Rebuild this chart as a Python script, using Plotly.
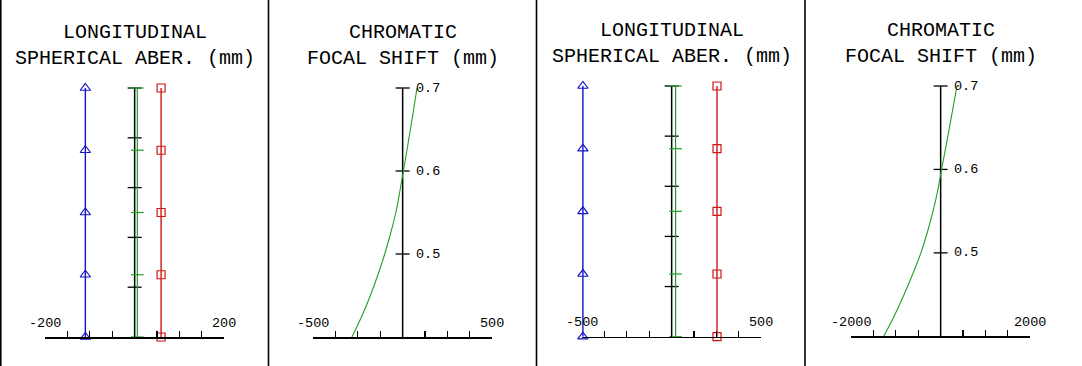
import plotly.graph_objects as go

W, H = 1082, 366

# ---------------- data ----------------
pupil = [0.0, 0.25, 0.5, 0.75, 1.0]
lsa_tick_vals = [0.2, 0.4, 0.6, 0.8, 1.0]

lsa1_blue = [-110, -110, -110, -110, -110]
lsa1_green = [6, 6, 6, 6, 6]
lsa1_red = [59, 59, 59, 59, 59]

lsa3_blue = [-495, -495, -495, -495, -495]
lsa3_green = [22, 22, 22, 22, 22]
lsa3_red = [253, 253, 253, 253, 253]

wavelength = [0.400, 0.425, 0.450, 0.475, 0.500, 0.525, 0.550,
              0.575, 0.600, 0.625, 0.650, 0.675, 0.700]
cfs2 = [-283, -228, -180, -138, -100, -67, -38, -16, 4, 24, 43, 62, 80]
cfs4 = [-1270, -1030, -815, -620, -440, -295, -170, -65, 20, 110, 195, 280, 364]
cfs_tick_vals = [0.5, 0.6, 0.7]
cfs_tick_text = ["0.5", "0.6", "0.7"]

x_ranges = [[-200, 200], [-500, 500], [-500, 500], [-2000, 2000]]
x_ticks = [
    [-200, -150, -100, -50, 0, 50, 100, 150, 200],
    [-500, -375, -250, -125, 0, 125, 250, 375, 500],
    [-500, -375, -250, -125, 0, 125, 250, 375, 500],
    [-2000, -1500, -1000, -500, 0, 500, 1000, 1500, 2000],
]
x_end_labels = [["-200", "200"], ["-500", "500"], ["-500", "500"], ["-2000", "2000"]]
y_ranges = [[0, 1], [0.4, 0.7], [0, 1], [0.4, 0.7]]
titles = [
    "LONGITUDINAL<br>SPHERICAL ABER. (mm)",
    "CHROMATIC<br>FOCAL SHIFT (mm)",
    "LONGITUDINAL<br>SPHERICAL ABER. (mm)",
    "CHROMATIC<br>FOCAL SHIFT (mm)",
]

# ---------------- layout geometry (pixels) ----------------
px_x = [(45, 224.3), (313, 492.3), (582, 761.3), (851, 1030.3)]
px_y = [(88, 337), (88, 337), (86, 336.7), (86, 336.3)]
separators = [0.8, 268.5, 536.5, 805]

BLUE = "#1414c8"
GREEN = "#22a022"
RED = "#d21414"
FONT = "Liberation Mono"

fig = go.Figure()
layout = dict(
    width=W, height=H, margin=dict(l=0, r=0, t=0, b=0),
    paper_bgcolor="white", plot_bgcolor="white", showlegend=False,
)
annotations = []
shapes = []

for i in range(4):
    n = "" if i == 0 else str(i + 1)
    xa, ya = "x" + n, "y" + n
    (x0, x1), (y0, y1) = px_x[i], px_y[i]
    layout["xaxis" + n] = dict(
        domain=[x0 / W, x1 / W], range=x_ranges[i], anchor=ya,
        showline=True, linecolor="black", linewidth=1.5,
        ticks="inside", ticklen=6, tickwidth=1.2, tickcolor="black",
        tickvals=x_ticks[i], showticklabels=False,
        showgrid=False, zeroline=False, fixedrange=True,
    )
    layout["yaxis" + n] = dict(
        domain=[1 - y1 / H, 1 - y0 / H], range=y_ranges[i], anchor=xa,
        visible=False, fixedrange=True,
    )
    ymin, ymax = y_ranges[i]
    # vertical axis at x = 0
    fig.add_trace(go.Scatter(x=[0, 0], y=[ymin, ymax], mode="lines",
                             line=dict(color="black", width=1.5),
                             xaxis=xa, yaxis=ya, hoverinfo="skip"))
    tv = lsa_tick_vals if i in (0, 2) else cfs_tick_vals
    fig.add_trace(go.Scatter(x=[0] * len(tv), y=tv, mode="markers",
                             marker=dict(symbol="line-ew", size=10,
                                         line=dict(color="black", width=1.3)),
                             xaxis=xa, yaxis=ya, cliponaxis=False, hoverinfo="skip"))

    if i in (0, 2):
        g, b, r = (lsa1_green, lsa1_blue, lsa1_red) if i == 0 else (lsa3_green, lsa3_blue, lsa3_red)
        fig.add_trace(go.Scatter(x=g, y=pupil, mode="lines+markers",
                                 line=dict(color=GREEN, width=1.2),
                                 marker=dict(symbol="line-ew", size=9,
                                             line=dict(color=GREEN, width=1.2)),
                                 xaxis=xa, yaxis=ya, cliponaxis=False))
        fig.add_trace(go.Scatter(x=b, y=pupil, mode="lines+markers",
                                 line=dict(color=BLUE, width=1.4),
                                 marker=dict(symbol="triangle-up-open", size=9,
                                             color=BLUE, line=dict(color=BLUE, width=1.2)),
                                 xaxis=xa, yaxis=ya, cliponaxis=False))
        fig.add_trace(go.Scatter(x=r, y=pupil, mode="lines+markers",
                                 line=dict(color=RED, width=1.4),
                                 marker=dict(symbol="square-open", size=8,
                                             color=RED, line=dict(color=RED, width=1.2)),
                                 xaxis=xa, yaxis=ya, cliponaxis=False))
    else:
        c = cfs2 if i == 1 else cfs4
        fig.add_trace(go.Scatter(x=c, y=wavelength, mode="lines",
                                 line=dict(color=GREEN, width=1.1, shape="spline"),
                                 xaxis=xa, yaxis=ya))
        for v, t in zip(cfs_tick_vals, cfs_tick_text):
            annotations.append(dict(x=0, y=v, xref=xa, yref=ya, text=t,
                                    showarrow=False, xanchor="left", yanchor="middle",
                                    xshift=11, font=dict(family=FONT, size=13.5, color="black")))

    # end labels of the bottom axis
    for xv, t in zip(x_ranges[i], x_end_labels[i]):
        annotations.append(dict(x=xv, y=ymin, xref=xa, yref=ya, text=t,
                                showarrow=False, xanchor="center", yanchor="middle",
                                yshift=14, font=dict(family=FONT, size=13.5, color="black")))
    # title
    annotations.append(dict(x=0, y=1 - (45 - (88 - y0)) / H, xref=xa, yref="paper",
                            text=titles[i], showarrow=False, xanchor="center",
                            yanchor="middle", align="center",
                            font=dict(family=FONT, size=20, color="black")))

for sx in separators:
    shapes.append(dict(type="line", xref="paper", yref="paper",
                       x0=sx / W, x1=sx / W, y0=0, y1=1,
                       line=dict(color="black", width=1.6)))

layout["annotations"] = annotations
layout["shapes"] = shapes
fig.update_layout(**layout)
fig.write_html("out.html", config={"displayModeBar": False, "staticPlot": True},
               post_script="document.body.style.margin='0';document.body.style.padding='0';")
